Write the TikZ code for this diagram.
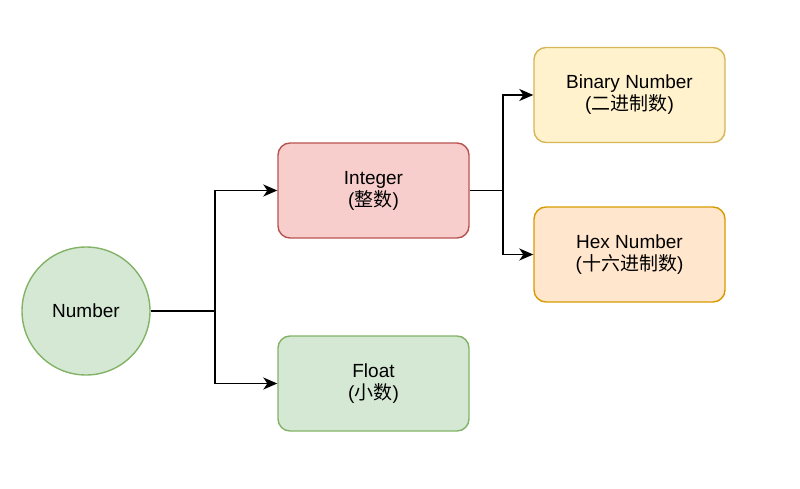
\documentclass[tikz,border=0pt]{standalone}
\usepackage{fontspec}
\setmainfont{Liberation Sans}
\newfontfamily\cjk{Noto Sans CJK SC}
\usetikzlibrary{arrows.meta}
\definecolor{greenfill}{HTML}{D5E8D4}
\definecolor{greenline}{HTML}{82B366}
\definecolor{redfill}{HTML}{F8CECC}
\definecolor{redline}{HTML}{B85450}
\definecolor{yellowfill}{HTML}{FFF2CC}
\definecolor{yellowline}{HTML}{D6B656}
\definecolor{orangefill}{HTML}{FFE6CC}
\definecolor{orangeline}{HTML}{D79B00}
\tikzset{
	box/.style={rectangle,rounded corners=12pt,minimum width=191pt,minimum height=95pt,line width=1.4pt,align=center,inner sep=0pt},
	arr/.style={-{Stealth[length=14pt,width=12pt,inset=4pt]},line width=1.6pt}
}
\begin{document}
\begin{tikzpicture}[x=1pt,y=1pt,font=\fontsize{19}{22}\selectfont]
	\useasboundingbox (0,0) rectangle (800,488);
	\node[circle,minimum size=128pt,inner sep=0pt,fill=greenfill,draw=greenline,line width=1.4pt] (num) at (86,177) {Number};
	\node[box,fill=redfill,draw=redline] (int) at (373.5,297.5) {Integer\\({\cjk 整数})};
	\node[box,fill=greenfill,draw=greenline] (flt) at (373.5,104.5) {Float\\({\cjk 小数})};
	\node[box,fill=yellowfill,draw=yellowline] (bin) at (629.5,393) {Binary Number\\({\cjk 二进制数})};
	\node[box,fill=orangefill,draw=orangeline] (hex) at (629.5,233.5) {Hex Number\\({\cjk 十六进制数})};
	\draw[arr] (num.east) -- +(64,0) |- (int.west);
	\draw[arr] (num.east) -- +(64,0) |- (flt.west);
	\draw[arr] (int.east) -- +(33,0) |- (bin.west);
	\draw[arr] (int.east) -- +(33,0) |- (hex.west);
\end{tikzpicture}
\end{document}
